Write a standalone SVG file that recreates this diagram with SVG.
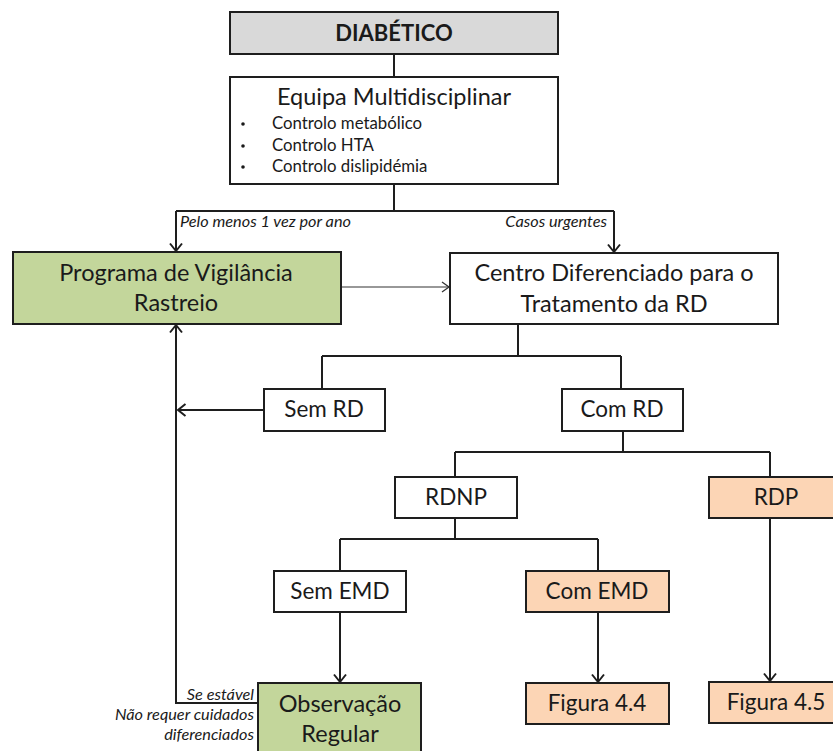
<svg xmlns="http://www.w3.org/2000/svg" width="833" height="751" viewBox="0 0 833 751">
  <style>
    .box { stroke: #1e1e1e; stroke-width: 2; fill: #ffffff; }
    .grey { fill: #d9d9d9; }
    .green { fill: #c3d69b; }
    .peach { fill: #fcd5b5; }
    .t { font-family: Lato, "Open Sans", "Liberation Sans", sans-serif; fill: #1a1a1a; text-anchor: middle; }
    .big { font-size: 23.5px; }
    .mid { font-size: 22.5px; }
    .small { font-size: 16.8px; text-anchor: start; }
    .lbl { font-family: Lato, "Open Sans", "Liberation Sans", sans-serif; font-size: 16.3px; font-style: italic; fill: #1a1a1a; }
    .wire { fill: none; stroke: #1e1e1e; stroke-width: 2; }
    .thin { fill: none; stroke: #333333; stroke-width: 1.2; }
  </style>
  <defs>
    <marker id="arr" markerUnits="userSpaceOnUse" markerWidth="16" markerHeight="16" viewBox="-9 -8 10 16" refX="0" refY="0" orient="auto">
      <path d="M-7.5,-6 L0,0 L-7.5,6" fill="none" stroke="#1e1e1e" stroke-width="2"/>
    </marker>
    <marker id="arrThin" markerUnits="userSpaceOnUse" markerWidth="16" markerHeight="16" viewBox="-9 -8 10 16" refX="0" refY="0" orient="auto">
      <path d="M-7,-5 L0,0 L-7,5" fill="none" stroke="#333333" stroke-width="1.3"/>
    </marker>
  </defs>

  <!-- connectors -->
  <g id="connectors">
    <path class="wire" d="M394,54 V77"/>
    <path class="wire" d="M394,184 V211 M176,211 H614"/>
    <path class="wire" d="M176,211 V251" marker-end="url(#arr)"/>
    <path class="wire" d="M614,211 V252" marker-end="url(#arr)"/>
    <path class="thin" d="M341,287 H449" marker-end="url(#arrThin)"/>
    <path class="wire" d="M518,324 V356 M322,356 H621 M322,356 V389 M621,356 V389"/>
    <path class="wire" d="M264,410 H178" marker-end="url(#arr)"/>
    <path class="wire" d="M258,703 H176 V325" marker-end="url(#arr)"/>
    <path class="wire" d="M623,431 V452 M455,452 H770 M455,452 V477 M770,452 V477"/>
    <path class="wire" d="M455,518 V539 M340,539 H598 M340,539 V571 M598,539 V571"/>
    <path class="wire" d="M340,612 V682" marker-end="url(#arr)"/>
    <path class="wire" d="M598,612 V682" marker-end="url(#arr)"/>
    <path class="wire" d="M770,518 V681" marker-end="url(#arr)"/>
    <text class="lbl" x="180" y="227">Pelo menos 1 vez por ano</text>
    <text class="lbl" x="607" y="227" text-anchor="end">Casos urgentes</text>
    <text class="lbl" x="254" y="700" text-anchor="end">Se estável</text>
    <text class="lbl" x="254" y="720" text-anchor="end">Não requer cuidados</text>
    <text class="lbl" x="254" y="740" text-anchor="end">diferenciados</text>
  </g>

  <g id="diabetico">
    <rect class="box grey" x="230" y="12" width="328" height="42"/>
    <text class="t" x="394" y="41" font-size="22" font-weight="bold">DIABÉTICO</text>
  </g>

  <g id="equipa">
    <rect class="box" x="230" y="77" width="328" height="107"/>
    <text class="t big" x="394" y="105">Equipa Multidisciplinar</text>
    <circle cx="243" cy="124" r="1.8" fill="#1a1a1a"/>
    <circle cx="243" cy="146" r="1.8" fill="#1a1a1a"/>
    <circle cx="243" cy="167" r="1.8" fill="#1a1a1a"/>
    <text class="t small" x="272" y="129">Controlo metabólico</text>
    <text class="t small" x="272" y="151">Controlo HTA</text>
    <text class="t small" x="272" y="172">Controlo dislipidémia</text>
  </g>

  <g id="programa">
    <rect class="box green" x="13" y="252" width="328" height="72"/>
    <text class="t big" x="176" y="281">Programa de Vigilância</text>
    <text class="t big" x="176" y="311">Rastreio</text>
  </g>

  <g id="centro">
    <rect class="box" x="450" y="253" width="328" height="71"/>
    <text class="t big" x="614" y="281">Centro Diferenciado para o</text>
    <text class="t big" x="614" y="312">Tratamento da RD</text>
  </g>

  <g id="sem-rd">
    <rect class="box" x="264" y="389" width="121" height="42"/>
    <text class="t mid" x="324" y="417">Sem RD</text>
  </g>

  <g id="com-rd">
    <rect class="box" x="562" y="389" width="121" height="42"/>
    <text class="t mid" x="622" y="417">Com RD</text>
  </g>

  <g id="rdnp">
    <rect class="box" x="395" y="477" width="122" height="41"/>
    <text class="t mid" x="456" y="505">RDNP</text>
  </g>

  <g id="rdp">
    <rect class="box peach" x="709" y="477" width="134" height="41"/>
    <text class="t mid" x="776" y="505">RDP</text>
  </g>

  <g id="sem-emd">
    <rect class="box" x="274" y="571" width="132" height="41"/>
    <text class="t mid" x="340" y="599">Sem EMD</text>
  </g>

  <g id="com-emd">
    <rect class="box peach" x="526" y="571" width="143" height="41"/>
    <text class="t mid" x="597" y="599">Com EMD</text>
  </g>

  <g id="observacao">
    <rect class="box green" x="258" y="683" width="163" height="80"/>
    <text class="t big" x="340" y="712">Observação</text>
    <text class="t big" x="340" y="742">Regular</text>
  </g>

  <g id="figura-4-4">
    <rect class="box peach" x="526" y="683" width="143" height="41"/>
    <text class="t mid" x="597" y="711">Figura 4.4</text>
  </g>

  <g id="figura-4-5">
    <rect class="box peach" x="709" y="682" width="134" height="41"/>
    <text class="t mid" x="776" y="710">Figura 4.5</text>
  </g>
</svg>
